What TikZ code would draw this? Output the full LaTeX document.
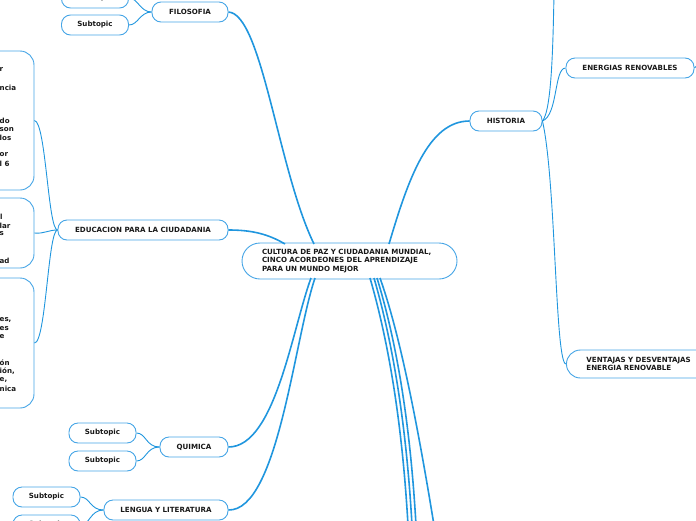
\documentclass[tikz,border=0pt]{standalone}
\usepackage{fontspec}
\setmainfont{DejaVu Sans}
\definecolor{boxc}{RGB}{70,165,230}
\definecolor{linec}{RGB}{32,150,222}
\definecolor{txt}{RGB}{25,25,25}
\tikzset{
  topic/.style={draw=boxc, line width=0.9pt, fill=white, rounded corners=9pt,
    minimum height=20pt, inner sep=2pt, text=txt,
    font=\fontsize{7.1}{8}\selectfont\bfseries},
  subt/.style={topic, minimum width=67pt},
  bigbox/.style={draw=boxc, line width=0.9pt, fill=white, rounded corners=14pt, minimum width=94pt},
  frag/.style={anchor=west, inner sep=0pt, text=txt, font=\fontsize{7.1}{8}\selectfont\bfseries},
  link/.style={draw=linec, line width=0.9pt},
  mainlink/.style={draw=linec, line width=1.6pt},
}
\begin{document}
\begin{tikzpicture}[x=1pt,y=-1pt]
\useasboundingbox (0,0) rectangle (696,520);
\coordinate (cfil) at (314,244);
\coordinate (cedu) at (285,244);
\coordinate (chis) at (389,244);
\coordinate (cqui) at (311,278);
\coordinate (clen) at (315,278);
\coordinate (cb1) at (370,278);
\coordinate (cb2) at (374,278);
\coordinate (cb3) at (377,278);
\coordinate (cb4) at (380,278);
\coordinate (e1) at (408,525);
\coordinate (e2) at (412,525);
\coordinate (e3) at (416,525);
\coordinate (e4) at (434,525);
\coordinate (htop) at (554,-5);
\coordinate (estub) at (700,63);

% nodes
\node[topic, minimum width=215pt, minimum height=36pt, rounded corners=18pt, text width=175pt, align=left,
  font=\fontsize{7.1}{8.3}\selectfont\bfseries] (cen) at (349.5,261)
  {CULTURA DE PAZ Y CIUDADANIA MUNDIAL,\\CINCO ACORDEONES DEL APRENDIZAJE\\PARA UN MUNDO MEJOR};
\node[topic, minimum width=76pt] (fil) at (190,12) {FILOSOFIA};
\node[subt] (s1) at (95,-2) {Subtopic};
\node[subt] (s2) at (95,25) {Subtopic};
\node[topic, minimum width=170pt] (edu) at (143,230) {EDUCACION PARA LA CIUDADANIA};
\node[bigbox, minimum height=139pt] (b1) at (-13,120.5) {};
\node[bigbox, minimum height=70pt] (b2) at (-13,233) {};
\node[bigbox, minimum height=130pt] (b3) at (-13,343) {};
\node[topic, minimum width=68pt] (qui) at (194,447) {QUIMICA};
\node[subt] (q1) at (102.5,433) {Subtopic};
\node[subt] (q2) at (102.5,461) {Subtopic};
\node[topic, minimum width=124pt] (len) at (166,510) {LENGUA Y LITERATURA};
\node[subt] (l1) at (46.5,497) {Subtopic};
\node[subt] (l2) at (46.5,525) {Subtopic};
\node[topic, minimum width=72pt] (his) at (506,121) {HISTORIA};
\node[topic, minimum width=128pt] (ene) at (630,68) {ENERGIAS RENOVABLES};
\node[topic, anchor=west, minimum width=180pt, minimum height=28pt, rounded corners=14pt, text width=140pt, align=left,
  font=\fontsize{7.1}{8.2}\selectfont\bfseries] (ven) at (566,364) {VENTAJAS Y DESVENTAJAS\\ENERGIA RENOVABLE};

% text fragments in clipped boxes
\node[frag] (f1) at (-0.5,70) {r};
\node[frag] (f2) at (-0.5,88) {ncia};
\node[frag] (f3) at (-0.5,121) {do};
\node[frag] (f4) at (-0.5,129.5) {son};
\node[frag] (f5) at (-0.5,138) {los};
\node[frag] (f6) at (-0.5,155) {or};
\node[frag] (f7) at (-0.5,163.5) {l 6};
\node[frag] (g1) at (0,217) {l};
\node[frag] (g2) at (-0.5,225.5) {lar};
\node[frag] (g3) at (-0.5,234) {s};
\node[frag] (g4) at (-0.5,261) {ad};
\node[frag] (h1) at (-0.5,320) {es,};
\node[frag] (h2) at (-0.5,328.5) {es};
\node[frag] (h3) at (-0.5,337) {e};
\node[frag] (h4) at (-0.5,363) {ón};
\node[frag] (h5) at (-0.5,371.5) {ión,};
\node[frag] (h6) at (-0.5,380) {e,};
\node[frag] (h7) at (-0.5,388.5) {nica};

% main connectors
\draw[mainlink] (fil.east) .. controls (262,14) and (278,170) .. (cfil);
\draw[mainlink] (edu.east) .. controls (252,230) and (268,234) .. (cedu);
\draw[mainlink] (his.west) .. controls (428,121) and (408,180) .. (chis);
\draw[mainlink] (qui.east) .. controls (275,447) and (292,330) .. (cqui);
\draw[mainlink] (len.east) .. controls (278,511) and (294,340) .. (clen);
\draw[mainlink] (cb1) .. controls (388,340) and (402,420) .. (e1);
\draw[mainlink] (cb2) .. controls (392,340) and (406,420) .. (e2);
\draw[mainlink] (cb3) .. controls (396,340) and (410,420) .. (e3);
\draw[mainlink] (cb4) .. controls (402,340) and (420,440) .. (e4);
% sub connectors
\draw[link] (fil.west) .. controls (140,12) and (138,-2) .. (s1.east);
\draw[link] (fil.west) .. controls (140,12) and (138,25) .. (s2.east);
\draw[link] (edu.west) .. controls (48,230) and (46,122) .. (b1.east);
\draw[link] (edu.west) .. controls (48,230) and (44,234) .. (b2.east);
\draw[link] (edu.west) .. controls (48,230) and (46,343) .. (b3.east);
\draw[link] (qui.west) .. controls (146,447) and (146,433) .. (q1.east);
\draw[link] (qui.west) .. controls (146,447) and (146,461) .. (q2.east);
\draw[link] (len.west) .. controls (90,510) and (90,497) .. (l1.east);
\draw[link] (len.west) .. controls (90,510) and (90,525) .. (l2.east);
\draw[link] (his.east) .. controls (552,110) and (553,40) .. (htop);
\draw[link] (his.east) .. controls (558,115) and (554,68) .. (ene.west);
\draw[link] (his.east) .. controls (556,180) and (555,364) .. (ven.west);
\draw[link] (ene.east) -- (estub);
\end{tikzpicture}
\end{document}
